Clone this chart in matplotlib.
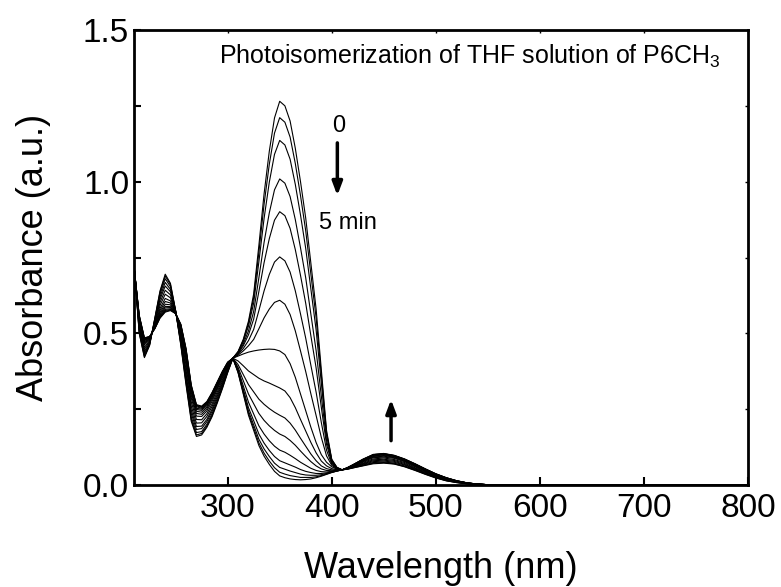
import matplotlib
matplotlib.use('Agg')
import matplotlib.pyplot as plt
from matplotlib.ticker import MultipleLocator

plt.rcParams['font.family'] = ['Liberation Sans', 'DejaVu Sans']
plt.rcParams['mathtext.fontset'] = 'custom'
plt.rcParams['mathtext.rm'] = 'Liberation Sans'

# wavelength (nm)
wl = [210, 215, 220, 225, 230, 235, 240, 245, 250, 255, 260, 265, 270, 275, 280, 285, 290, 295, 300,
      305, 310, 315, 320, 325, 330, 335, 340, 345, 350, 355, 360, 365, 370, 375, 380, 385, 390, 395,
      400, 405, 410, 415, 420, 430, 440, 450, 460, 470, 480, 490, 500, 510, 520, 530, 540, 550, 560,
      600, 700, 800]

# absorbance x 1000, one scan every 20 s (0 ... 5 min)
scan_00 = [730, 500, 420, 460, 550, 640, 695, 665, 575, 460, 330, 210, 160, 165, 190, 225, 270, 318, 370,
           418, 440, 480, 540, 630, 790, 960, 1100, 1210, 1265, 1250, 1200, 1110, 1000, 880, 730, 580, 380,
           180, 85, 58, 50, 52, 56, 63, 70, 72, 69, 60, 48, 35, 23, 14, 8, 4, 2, 1, 0, 0, 0, 0]
scan_01 = [730, 503, 423, 462, 548, 636, 689, 661, 574, 464, 336, 216, 165, 170, 194, 229, 274, 321, 372,
           418, 439, 477, 533, 618, 767, 926, 1057, 1160, 1211, 1196, 1147, 1060, 954, 838, 694, 551, 362,
           173, 83, 58, 50, 52, 56, 64, 72, 74, 70, 61, 49, 36, 24, 14, 8, 4, 2, 1, 0, 0, 0, 0]
scan_02 = [729, 507, 428, 464, 546, 629, 680, 654, 574, 468, 344, 224, 173, 176, 200, 235, 278, 325, 374,
           418, 438, 472, 524, 600, 736, 879, 998, 1090, 1136, 1121, 1074, 991, 890, 780, 645, 511, 336,
           164, 81, 57, 50, 53, 57, 66, 74, 76, 72, 63, 51, 37, 25, 15, 9, 4, 2, 1, 0, 0, 0, 0]
scan_03 = [728, 513, 434, 467, 542, 620, 668, 645, 573, 475, 356, 236, 183, 186, 209, 243, 285, 331, 378,
           418, 435, 465, 508, 572, 683, 800, 897, 973, 1009, 995, 951, 875, 782, 683, 562, 443, 293,
           147, 77, 56, 50, 53, 58, 68, 77, 79, 75, 66, 53, 39, 26, 16, 9, 5, 2, 1, 0, 0, 0, 0]
scan_04 = [727, 519, 440, 469, 539, 612, 656, 637, 572, 482, 367, 247, 193, 194, 216, 250, 292, 336, 381,
           418, 433, 459, 495, 547, 638, 733, 812, 873, 901, 888, 846, 776, 691, 599, 491, 386, 256,
           134, 74, 55, 50, 54, 59, 70, 80, 82, 78, 68, 55, 41, 27, 17, 10, 5, 2, 1, 0, 0, 0, 0]
scan_05 = [726, 525, 447, 473, 535, 602, 642, 627, 571, 489, 380, 260, 204, 205, 226, 259, 299, 342, 385,
           418, 431, 450, 476, 513, 575, 640, 694, 735, 752, 739, 702, 640, 564, 484, 394, 306, 206,
           115, 69, 54, 50, 54, 60, 72, 83, 85, 81, 71, 57, 43, 29, 18, 11, 5, 2, 1, 0, 0, 0, 0]
scan_06 = [725, 532, 454, 476, 531, 592, 629, 617, 570, 497, 394, 274, 216, 215, 235, 267, 307, 348, 389,
           418, 428, 442, 459, 480, 515, 551, 580, 602, 609, 596, 562, 508, 442, 374, 300, 229, 157,
           96, 65, 53, 50, 55, 61, 75, 86, 89, 84, 74, 60, 45, 30, 19, 11, 6, 3, 1, 0, 0, 0, 0]
scan_07 = [724, 538, 462, 479, 528, 582, 615, 607, 569, 505, 407, 287, 227, 226, 244, 276, 315, 354, 392,
           418, 425, 432, 438, 442, 445, 447, 448, 447, 442, 430, 400, 355, 300, 245, 190, 140, 100,
           75, 60, 52, 50, 55, 62, 77, 90, 92, 88, 77, 62, 47, 32, 20, 12, 6, 3, 1, 0, 0, 0, 0]
scan_08 = [723, 543, 467, 482, 525, 575, 605, 600, 568, 510, 416, 296, 236, 233, 251, 283, 320, 359, 395,
           418, 409, 393, 376, 364, 352, 343, 336, 328, 320, 310, 288, 255, 216, 178, 140, 106, 79,
           63, 54, 50, 50, 56, 63, 79, 92, 95, 90, 79, 64, 48, 33, 21, 12, 6, 3, 1, 0, 0, 0, 0]
scan_09 = [722, 547, 471, 484, 522, 569, 596, 594, 567, 515, 425, 305, 243, 240, 257, 288, 325, 363, 398,
           418, 397, 364, 331, 307, 283, 266, 252, 240, 230, 221, 204, 181, 154, 128, 102, 80, 63,
           54, 50, 49, 50, 56, 64, 80, 94, 97, 92, 81, 65, 49, 34, 22, 13, 6, 3, 1, 0, 0, 0, 0]
scan_10 = [722, 551, 475, 486, 520, 564, 589, 588, 566, 520, 432, 312, 249, 246, 262, 293, 330, 366, 400,
           418, 388, 344, 300, 268, 236, 213, 195, 180, 168, 160, 147, 131, 112, 94, 77, 63, 53,
           48, 47, 48, 50, 56, 64, 82, 96, 99, 94, 82, 67, 50, 35, 22, 13, 7, 3, 1, 0, 0, 0, 0]
scan_11 = [721, 553, 478, 487, 519, 560, 584, 585, 566, 522, 437, 317, 253, 250, 266, 296, 332, 369, 401,
           418, 381, 327, 273, 234, 195, 168, 146, 128, 115, 108, 98, 87, 75, 65, 55, 48, 44,
           43, 45, 47, 50, 56, 65, 83, 98, 100, 95, 83, 68, 51, 35, 23, 13, 7, 3, 1, 0, 0, 0, 0]
scan_12 = [721, 556, 480, 488, 517, 556, 579, 581, 566, 525, 442, 322, 258, 253, 269, 299, 335, 371, 403,
           418, 377, 316, 255, 212, 168, 138, 114, 94, 80, 73, 66, 59, 51, 45, 41, 38, 38,
           40, 43, 47, 50, 57, 65, 83, 99, 102, 96, 84, 68, 52, 36, 23, 14, 7, 3, 1, 0, 0, 0, 0]
scan_13 = [720, 558, 482, 489, 516, 554, 575, 579, 565, 527, 445, 325, 261, 256, 272, 302, 337, 373, 404,
           418, 374, 309, 244, 198, 151, 119, 94, 72, 58, 52, 46, 41, 36, 33, 32, 32, 34,
           38, 42, 46, 50, 57, 66, 84, 100, 103, 97, 85, 69, 52, 36, 24, 14, 7, 3, 1, 0, 0, 0, 0]
scan_14 = [720, 559, 484, 489, 516, 552, 572, 577, 565, 529, 448, 328, 263, 258, 273, 303, 339, 374, 404,
           418, 372, 304, 236, 188, 139, 105, 79, 57, 42, 36, 31, 28, 25, 25, 25, 27, 31,
           36, 42, 46, 50, 57, 66, 85, 100, 103, 97, 85, 70, 53, 37, 24, 14, 7, 3, 1, 0, 0, 0, 0]
scan_15 = [720, 560, 485, 490, 515, 550, 570, 575, 565, 530, 450, 330, 265, 260, 275, 305, 340, 375, 405,
           418, 370, 300, 230, 180, 130, 95, 68, 45, 30, 24, 20, 18, 17, 18, 20, 24, 29,
           35, 41, 46, 50, 57, 66, 85, 101, 104, 98, 86, 70, 53, 37, 24, 14, 7, 3, 1, 0, 0, 0, 0]

scans = [scan_00, scan_01, scan_02, scan_03, scan_04, scan_05, scan_06, scan_07,
         scan_08, scan_09, scan_10, scan_11, scan_12, scan_13, scan_14, scan_15]

fig = plt.figure(figsize=(7.81, 5.87), dpi=100)
ax = fig.add_axes([134 / 781, 1 - 485 / 587, 614 / 781, 455 / 587])
for s in scans:
    ax.plot(wl, [v / 1000 for v in s], color='black', lw=0.8)

ax.set_xlim(210, 800)
ax.set_ylim(0, 1.5)
ax.set_xticks([300, 400, 500, 600, 700, 800])
ax.set_yticks([0, 0.5, 1.0, 1.5])
ax.set_yticklabels(['0.0', '0.5', '1.0', '1.5'])
ax.yaxis.set_minor_locator(MultipleLocator(0.25))
ax.tick_params(axis='x', which='major', direction='in', length=6, width=1.5, labelsize=24, pad=6, top=False)
ax.tick_params(axis='y', which='both', direction='in', length=5, width=1.5, labelsize=24, right=False)
for sp in ax.spines.values():
    sp.set_linewidth(2)

# small ticks on the top and right frame
top = ax.secondary_xaxis('top')
top.set_xticks([300, 400, 500, 600, 700])
top.set_xticklabels([])
top.tick_params(direction='in', length=2.5, width=1)
right = ax.secondary_yaxis('right')
right.set_yticks([0.25, 0.5, 0.75, 1.0, 1.25])
right.set_yticklabels([])
right.tick_params(direction='in', length=2.5, width=1)

ax.set_xlabel('Wavelength (nm)', fontsize=26, labelpad=19)
ax.set_ylabel('Absorbance (a.u.)', fontsize=26, labelpad=23)

ax.text(291.7, 1.388, 'Photoisomerization of THF solution of P6CH$_3$', fontsize=18, va='baseline')
ax.text(407, 1.185, '0', fontsize=17, ha='center', va='center')
ax.text(415.6, 0.865, '5 min', fontsize=17, ha='center', va='center')
ax.annotate('', xy=(405.4, 0.945), xytext=(405.4, 1.137),
            arrowprops=dict(arrowstyle='-|>,head_length=0.8,head_width=0.3', lw=2.5, color='black'))
ax.annotate('', xy=(457, 0.291), xytext=(457, 0.137),
            arrowprops=dict(arrowstyle='-|>,head_length=0.8,head_width=0.3', lw=2.5, color='black'))

fig.savefig('out.png', dpi=100)
